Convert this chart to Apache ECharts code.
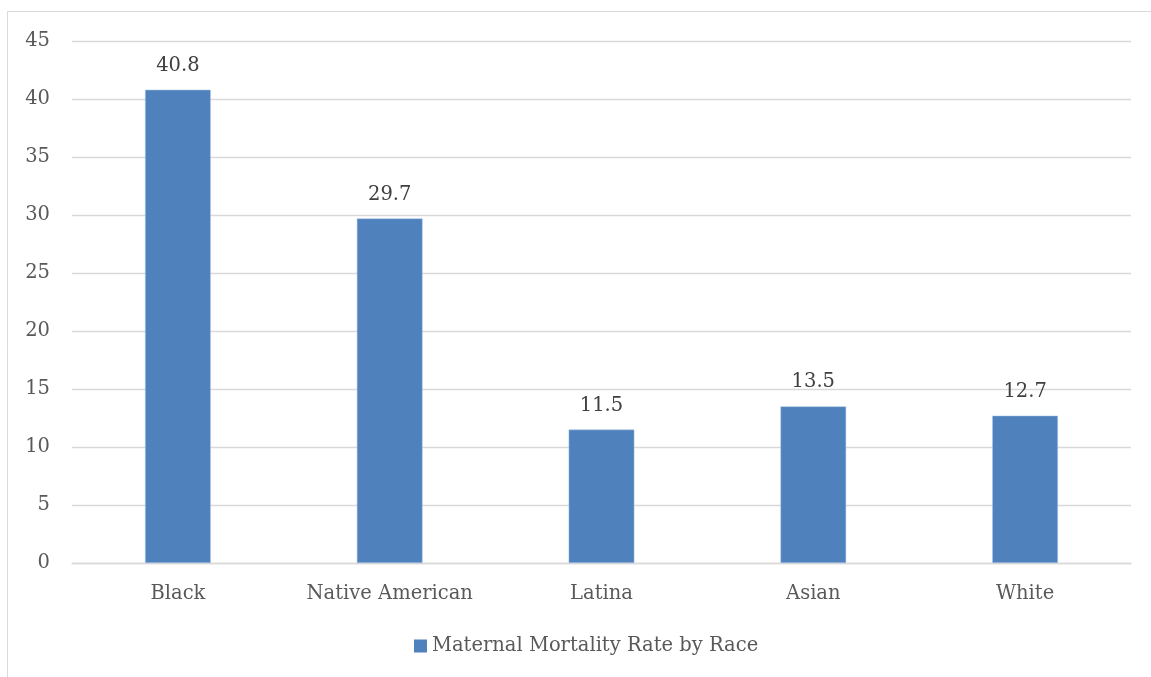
<!DOCTYPE html>
<html>
<head>
<meta charset="utf-8">
<script src="https://cdn.jsdelivr.net/npm/echarts@6/dist/echarts.min.js"></script>
<style>
html,body{margin:0;padding:0;background:#fff;}
#c{width:1151px;height:677px;}
</style>
</head>
<body>
<div id="c"></div>
<script>
const categories = ['Black', 'Native American', 'Latina', 'Asian', 'White'];
const values = [40.8, 29.7, 11.5, 13.5, 12.7];
const seriesName = 'Maternal Mortality Rate by Race';
const yTicks = [0, 5, 10, 15, 20, 25, 30, 35, 40, 45];

const FONT = '"DejaVu Serif", "Liberation Serif", serif';
const chart = echarts.init(document.getElementById('c'));
chart.setOption({
  animation: false,
  backgroundColor: '#fff',
  graphic: [{
    type: 'rect',
    shape: { x: 7.5, y: 11.5, width: 1160, height: 700 },
    style: { fill: 'none', stroke: '#d9d9d9', lineWidth: 1 },
    silent: true,
    z: -1
  }],
  grid: { left: 72, right: 20, top: 41, bottom: 114, containLabel: false },
  legend: {
    bottom: 16,
    left: 409,
    data: [seriesName],
    icon: 'rect',
    itemWidth: 13,
    itemHeight: 13,
    itemGap: 6,
    itemStyle: { borderWidth: 0 },
    textStyle: { fontFamily: FONT, fontSize: 19.5, color: '#595959' }
  },
  xAxis: {
    type: 'category',
    data: categories,
    axisLine: { show: true, lineStyle: { color: '#d9d9d9', width: 1.3 } },
    axisTick: { show: false },
    axisLabel: { interval: 0, fontFamily: FONT, fontSize: 19.5, color: '#595959', margin: 21 }
  },
  yAxis: {
    type: 'value',
    min: yTicks[0],
    max: yTicks[yTicks.length - 1],
    interval: 5,
    axisLine: { show: false },
    axisTick: { show: false },
    splitLine: { lineStyle: { color: '#d9d9d9', width: 1.3 } },
    axisLabel: { fontFamily: FONT, fontSize: 19.5, color: '#595959', margin: 22 }
  },
  series: [{
    name: seriesName,
    type: 'bar',
    data: values,
    barWidth: '31%',
    itemStyle: { color: '#4F81BD', borderColor: '#a9c4e6', borderWidth: 0.5 },
    label: {
      show: true,
      position: 'top',
      distance: 14,
      fontFamily: FONT,
      fontSize: 19.5,
      color: '#404040'
    }
  }]
});
</script>
</body>
</html>
